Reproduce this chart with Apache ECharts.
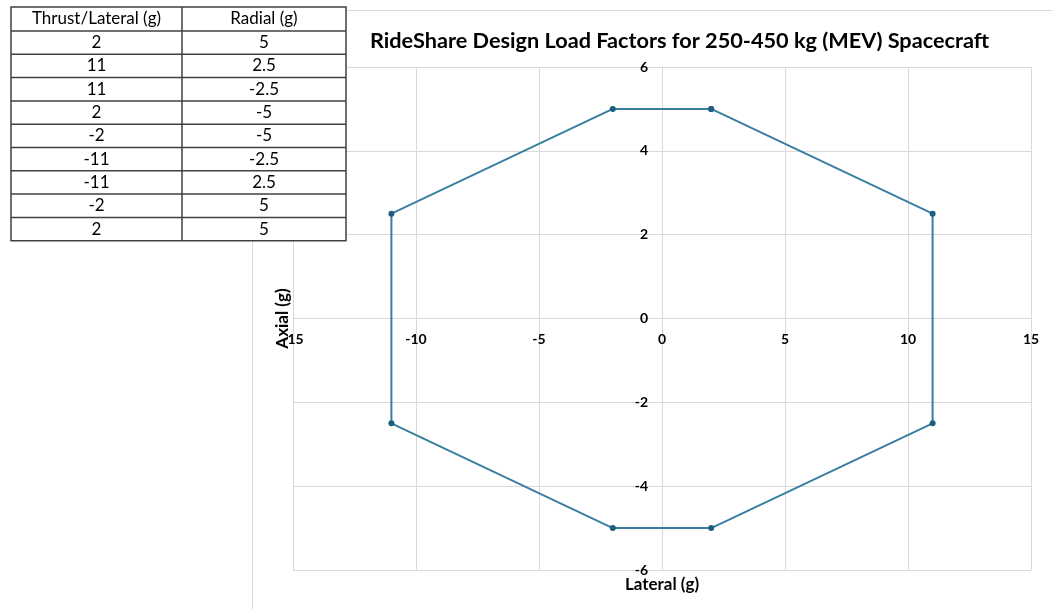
<!DOCTYPE html>
<html>
<head>
<meta charset="utf-8">
<script src="https://cdn.jsdelivr.net/npm/echarts@6/dist/echarts.min.js"></script>
<style>
html,body{margin:0;padding:0;background:#fff;}
#chart{width:1052px;height:609px;}
</style>
</head>
<body>
<div id="chart"></div>
<script>
// ---- data ----
var tableHeaders = ['Thrust/Lateral (g)', 'Radial (g)'];
var lateral = [2, 11, 11, 2, -2, -11, -11, -2, 2];
var axial = [5, 2.5, -2.5, -5, -5, -2.5, 2.5, 5, 5];
var titleText = 'RideShare Design Load Factors for 250-450 kg (MEV) Spacecraft';
var xAxisName = 'Lateral (g)';
var yAxisName = 'Axial (g)';

var chart = echarts.init(document.getElementById('chart'));

var points = lateral.map(function (x, i) { return [x, axial[i]]; });

// layout
var W = 1052, H = 609;
var gLeft = 293, gRight = 21, gTop = 67, gBottom = 39;
var xMin = -15, xMax = 15, yMin = -6, yMax = 6;
var plotW = W - gLeft - gRight, plotH = H - gTop - gBottom;
// shift axes so they cross at zero (like the source chart)
var yAxisOffset = -plotW * (0 - xMin) / (xMax - xMin);
var xAxisOffset = -plotH * (0 - yMin) / (yMax - yMin);

// table graphic built from arrays
var tblX = 11, tblY = 7, col1W = 171, col2W = 164, headH = 24, rowH = 23.3;
var graphics = [];
// chart-area border
graphics.push({
  type: 'rect', z: 0, silent: true,
  shape: { x: 252.5, y: 10.5, width: 900, height: 700 },
  style: { fill: 'none', stroke: '#d9d9d9', lineWidth: 1 }
});
var nRows = lateral.length + 1;
var tblH = headH + rowH * lateral.length;
graphics.push({
  type: 'rect', z: 10, silent: true,
  shape: { x: tblX, y: tblY, width: col1W + col2W, height: tblH },
  style: { fill: '#ffffff', stroke: '#404040', lineWidth: 1.5 }
});
graphics.push({
  type: 'line', z: 11, silent: true,
  shape: { x1: tblX + col1W, y1: tblY, x2: tblX + col1W, y2: tblY + tblH },
  style: { stroke: '#404040', lineWidth: 1.5 }
});
for (var r = 1; r < nRows; r++) {
  var yy = tblY + headH + rowH * (r - 1);
  graphics.push({
    type: 'line', z: 11, silent: true,
    shape: { x1: tblX, y1: yy, x2: tblX + col1W + col2W, y2: yy },
    style: { stroke: '#404040', lineWidth: 1.5 }
  });
}
function cellText(txt, cx, cy) {
  return {
    type: 'text', z: 12, silent: true, x: cx, y: cy,
    style: { text: txt, fill: '#000', font: '17px Lato', align: 'center', verticalAlign: 'middle' }
  };
}
graphics.push(cellText(tableHeaders[0], tblX + col1W / 2, tblY + headH / 2));
graphics.push(cellText(tableHeaders[1], tblX + col1W + col2W / 2, tblY + headH / 2));
for (var i = 0; i < lateral.length; i++) {
  var cy = tblY + headH + rowH * i + rowH / 2;
  graphics.push(cellText(String(lateral[i]), tblX + col1W / 2, cy));
  graphics.push(cellText(String(axial[i]), tblX + col1W + col2W / 2, cy));
}

var axisLabelStyle = { color: '#000', fontWeight: 'bold', fontSize: 14, fontFamily: 'Lato' };
var axisNameStyle = { color: '#000', fontWeight: 'bold', fontSize: 17, fontFamily: 'Lato' };

chart.setOption({
  backgroundColor: '#ffffff',
  animation: false,
  title: {
    text: titleText,
    left: 365, top: 25,
    textStyle: { fontFamily: 'Lato', fontWeight: 'bold', fontSize: 21.7, color: '#000' }
  },
  grid: { left: gLeft, right: gRight, top: gTop, bottom: gBottom, containLabel: false, outerBoundsMode: 'none' },
  xAxis: {
    type: 'value', min: xMin, max: xMax, interval: 5,
    position: 'bottom', offset: xAxisOffset,
    name: xAxisName, nameLocation: 'middle', nameGap: 258,
    nameTextStyle: axisNameStyle,
    axisLine: { show: true, onZero: false, lineStyle: { color: '#d9d9d9' } },
    axisTick: { show: false },
    axisLabel: Object.assign({ margin: 14 }, axisLabelStyle),
    splitLine: { show: true, lineStyle: { color: '#d9d9d9', width: 1 } }
  },
  yAxis: {
    type: 'value', min: yMin, max: yMax, interval: 2,
    position: 'left', offset: yAxisOffset,
    name: yAxisName, nameLocation: 'middle', nameGap: 371,
    nameTextStyle: axisNameStyle,
    axisLine: { show: true, onZero: false, lineStyle: { color: '#d9d9d9' } },
    axisTick: { show: false },
    axisLabel: Object.assign({ margin: 14 }, axisLabelStyle),
    splitLine: { show: true, lineStyle: { color: '#d9d9d9', width: 1 } }
  },
  graphic: graphics,
  series: [{
    type: 'line',
    data: points,
    symbol: 'circle',
    symbolSize: 6,
    lineStyle: { color: '#3a7ea2', width: 2 },
    itemStyle: { color: '#1d5f7e' },
    z: 5
  }]
});
</script>
</body>
</html>
